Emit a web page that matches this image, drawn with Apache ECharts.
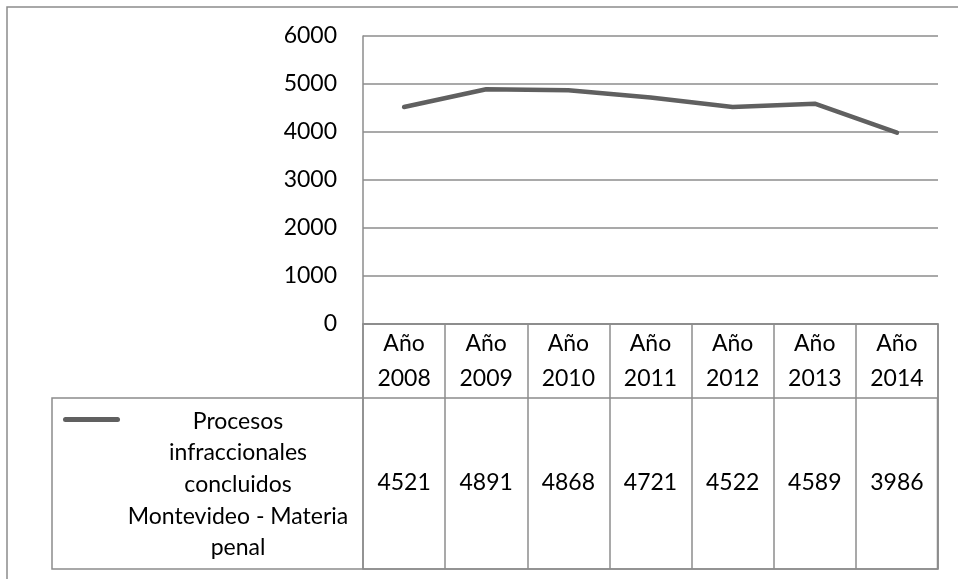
<!DOCTYPE html>
<html>
<head>
<meta charset="utf-8">
<script src="https://cdn.jsdelivr.net/npm/echarts@6/dist/echarts.min.js"></script>
<style>
  html, body { margin: 0; padding: 0; background: #fff; }
  #chart { width: 958px; height: 579px; }
</style>
</head>
<body>
<div id="chart"></div>
<script>
// datos
const categories = ['Año 2008', 'Año 2009', 'Año 2010', 'Año 2011', 'Año 2012', 'Año 2013', 'Año 2014'];
const values = [4521, 4891, 4868, 4721, 4522, 4589, 3986];
const yMin = 0;
const yMax = 6000;
const yStep = 1000;
const seriesName = 'Procesos\ninfraccionales\nconcluidos\nMontevideo - Materia\npenal';

const font = 'Lato';
const fontSize = 23;
const gridColor = '#8c8c8c';
const lineColor = '#606060';

let chart = echarts.init(document.getElementById('chart'));

let option = {
    animation: false,
    backgroundColor: '#fff',
    textStyle: { fontFamily: font },
    grid: [
        { left: 363, right: 20, top: 36, height: 288 },
        // tabla de datos
        { left: 363, right: 20, top: 324, bottom: 10, show: true, borderColor: gridColor, borderWidth: 1.5 }
    ],
    legend: {
        left: 58,
        top: 397,
        selectedMode: false,
        icon: 'path://M2.5,15 L54.5,15 A2.5,2.5 0 0 1 54.5,20 L2.5,20 A2.5,2.5 0 0 1 2.5,15 Z M0,0 M0,165',
        itemWidth: 57,
        itemHeight: 165,
        itemStyle: { borderWidth: 0 },
        formatter: name => '{t|' + name + '}',
        textStyle: {
            width: 226,
            rich: {
                t: { align: 'center', fontFamily: font, fontSize: fontSize, lineHeight: 31.7, color: '#000' }
            }
        }
    },
    xAxis: [
        {
            type: 'category',
            gridIndex: 0,
            data: categories,
            axisTick: { show: false },
            axisLine: { lineStyle: { color: gridColor, width: 1.5 } },
            axisLabel: {
                margin: 2,
                color: '#000',
                fontFamily: font,
                fontSize: fontSize,
                lineHeight: 35,
                interval: 0,
                formatter: v => v.replace(' ', '\n')
            }
        },
        {
            type: 'category',
            gridIndex: 1,
            data: values.map(String),
            axisTick: { show: false },
            axisLine: { show: false },
            splitLine: { show: true, interval: 0, lineStyle: { color: gridColor, width: 1.5 } },
            axisLabel: {
                inside: true,
                margin: 86,
                verticalAlign: 'middle',
                interval: 0,
                color: '#000',
                fontFamily: font,
                fontSize: fontSize
            }
        }
    ],
    yAxis: [
        {
            type: 'value',
            gridIndex: 0,
            min: yMin,
            max: yMax,
            interval: yStep,
            axisLine: { show: true, lineStyle: { color: gridColor, width: 1.5 } },
            axisTick: { show: false },
            splitLine: { lineStyle: { color: gridColor, width: 1.5 } },
            axisLabel: { margin: 26, color: '#000', fontFamily: font, fontSize: fontSize, formatter: v => String(v) }
        },
        { type: 'value', gridIndex: 1, show: false, min: 0, max: 1 }
    ],
    graphic: [
        // marco exterior
        { type: 'rect', shape: { x: 7, y: 7, width: 1000, height: 1000 }, style: { fill: 'none', stroke: gridColor, lineWidth: 1.5 }, silent: true },
        // celda de la leyenda
        { type: 'rect', shape: { x: 52, y: 398, width: 885.5, height: 171 }, style: { fill: 'none', stroke: gridColor, lineWidth: 1.5 }, silent: true }
    ],
    series: [{
        name: seriesName,
        type: 'line',
        xAxisIndex: 0,
        yAxisIndex: 0,
        data: values,
        symbol: 'none',
        color: lineColor,
        lineStyle: { width: 4.5, color: lineColor, cap: 'round', join: 'round' }
    }]
};

chart.setOption(option);
</script>
</body>
</html>
